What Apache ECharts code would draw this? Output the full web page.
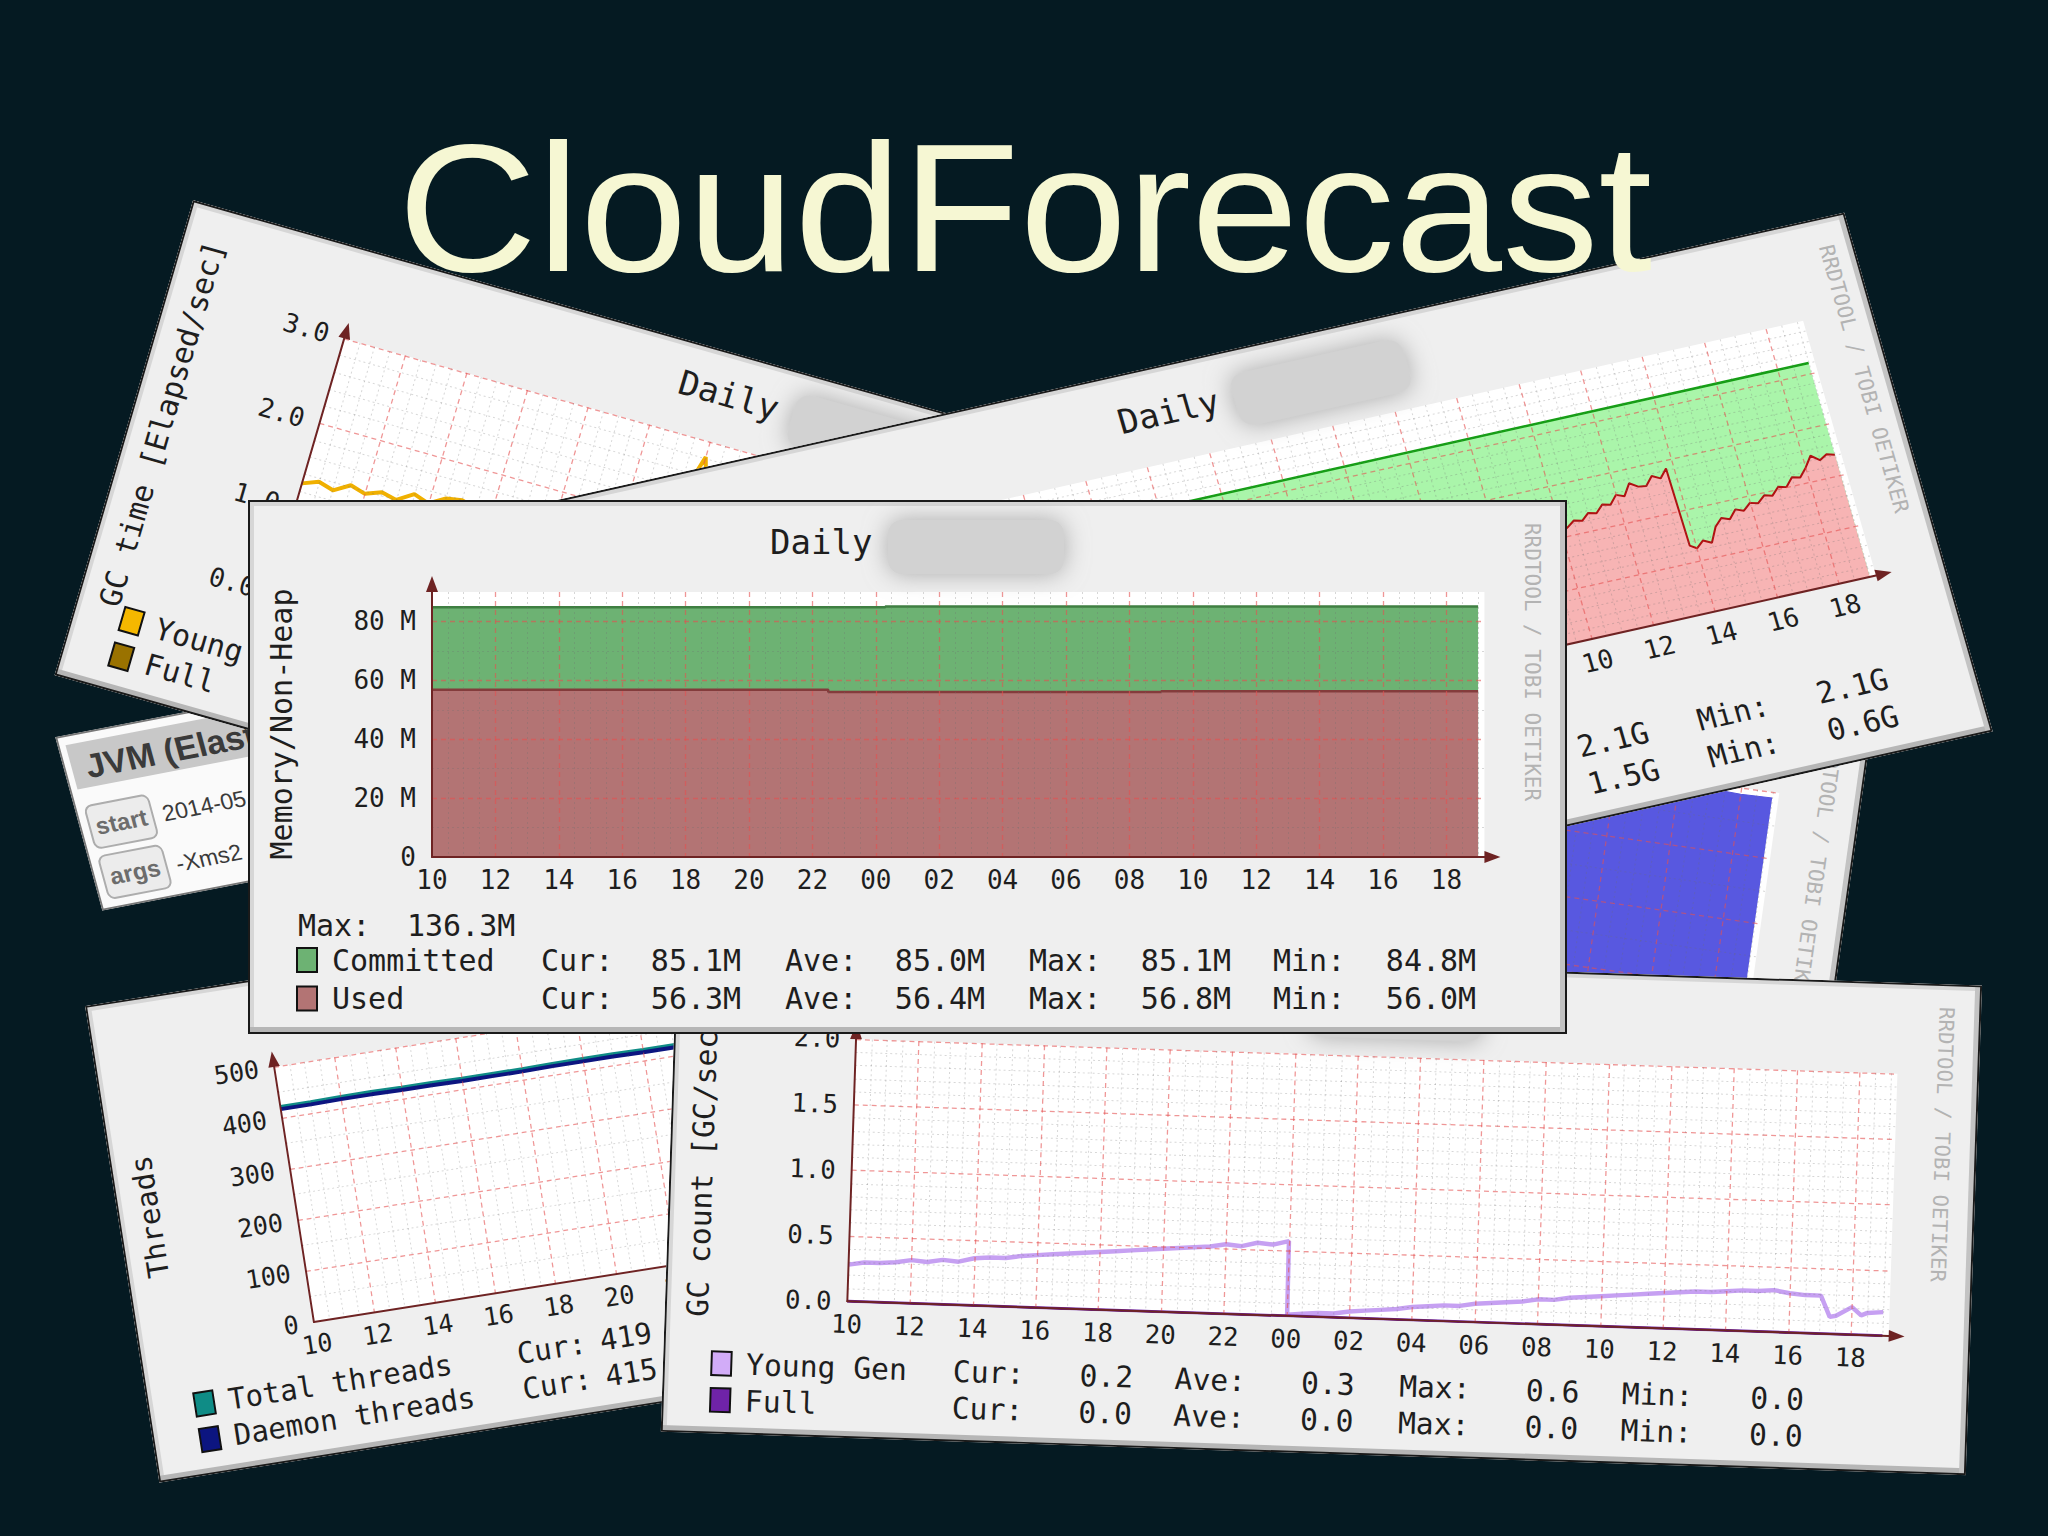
<!DOCTYPE html>
<html><head><meta charset="utf-8">
<script src="https://cdn.jsdelivr.net/npm/echarts@6/dist/echarts.min.js"></script>
<style>
html,body{margin:0;padding:0;background:#051a22;width:2048px;height:1536px;overflow:hidden;}
.card{position:absolute;transform-origin:0 0;}
</style></head><body>
<div id="cD" class="card" style="left:567.7px;top:529.9px;width:1319px;height:534px;transform:matrix(0.990,0.139,-0.139,0.990,0,0);z-index:1"></div>
<div id="cC" class="card" style="left:55px;top:737px;width:420px;height:180px;transform:matrix(0.982,-0.189,0.262,0.965,0,0);z-index:2"></div>
<div id="cA" class="card" style="left:193.3px;top:199.8px;width:1319px;height:495px;transform:matrix(0.962,0.272,-0.28,0.96,0,0);z-index:3"></div>
<div id="cB" class="card" style="left:556.9px;top:500.4px;width:1319px;height:540px;transform:matrix(0.976,-0.218,0.275,0.961,0,0);z-index:4"></div>
<div id="cE" class="card" style="left:84.9px;top:1005.7px;width:1319px;height:495px;transform:matrix(0.953,-0.151,0.150,0.963,0,0);z-index:5"></div>
<div id="cF" class="card" style="left:677.4px;top:941.7px;width:1319px;height:495px;transform:matrix(0.9895,0.0329,-0.0329,0.9895,0,0);z-index:6"></div>
<div id="cM" class="card" style="left:248px;top:500px;width:1319px;height:534px;z-index:7"></div>
<div id="titleLayer" style="position:absolute;left:0;top:0;width:2048px;height:1536px;z-index:20;pointer-events:none"></div>
<script>
// ================= DATA =================
const titleText = 'CloudForecast';
const xTickLabels = ['10','12','14','16','18','20','22','00','02','04','06','08','10','12','14','16','18'];
const halfHours = [0,0.5,1,1.5,2,2.5,3,3.5,4,4.5,5,5.5,6,6.5,7,7.5,8,8.5,9,9.5,10,10.5,11,11.5,12,12.5,13,13.5,14,14.5,15,15.5,16,16.5,17,17.5,18,18.5,19,19.5,20,20.5,21,21.5,22,22.5,23,23.5,24,24.5,25,25.5,26,26.5,27,27.5,28,28.5,29,29.5,30,30.5,31,31.5,32,32.5,33];
const hourly = [0,1,2,3,4,5,6,7,8,9,10,11,12,13,14,15,16,17,18,19,20,21,22,23,24,25,26,27,28,29,30,31,32,33];

// Main card: Memory/Non-Heap
const memYLabels = ['0','20 M','40 M','60 M','80 M'];
const memHours = [0, 12.5, 14.3, 23, 33];
const memCommitted = [84.8, 84.8, 85.1, 85.1, 85.1];
const memUsed = [56.8, 56.0, 56.0, 56.3, 56.3];
const memNames = ['Committed','Used'];
const memCur = ['85.1M','56.3M'];
const memAve = ['85.0M','56.4M'];
const memMax = ['85.1M','56.8M'];
const memMin = ['84.8M','56.0M'];
const memPeak = '136.3M';

// GC time card
const gcTimeYLabels = ['0.0','1.0','2.0','3.0'];
const gcTimeYoung = [1.29,1.36,1.31,1.42,1.37,1.44,1.40,1.52,1.46,1.57,1.60,1.55,1.68,1.63,1.75,1.71,1.84,1.93,
  1.97,2.01,2.06,2.10,2.12,2.18,2.82,2.22,2.27,2.31,0.32,
  0.35,0.38,0.40,0.44,0.47,0.49,0.53,0.55,0.59,0.61,0.65,0.68,0.70,0.74,0.77,0.80,0.82,0.86,0.88,0.92,
  0.95,0.97,1.01,1.04,1.06,1.10,1.12,1.16,1.18,1.21,1.25,1.27,1.30,1.33,0.62,0.58,0.64,0.61];
const gcTimeFullHours = [0, 33];
const gcTimeFull = [0, 0];
const gcTimeNames = ['Young','Full'];

// Heap memory card
const heapYLabels = ['0','0.5 G','1.0 G','1.5 G','2.0 G'];
const heapCommHours = [0, 33];
const heapCommitted = [2.1, 2.1];
const heapUsedHours = [0,1,2,3,4,5,6,7,7.5,7.6,8,9,10,11,12,13,14,15,16,17,18,19,20,21,22,23,24,
  24.25,24.5,24.75,25,25.25,25.5,25.75,26,26.25,26.5,26.75,27,27.25,27.5,27.75,27.8,
  28,28.25,28.5,28.75,29,29.25,29.5,29.75,30,30.25,30.5,30.75,31,31.25,31.5,31.75,32,32.25,32.5,32.75,33];
const heapUsed = [0.78,0.86,0.95,1.05,1.12,1.24,1.33,1.44,1.50,0.62,0.66,0.72,0.78,0.83,0.88,0.91,0.93,0.95,0.96,0.97,0.98,0.99,0.99,1.00,1.01,1.03,1.04,
  1.08,1.13,1.11,1.17,1.15,1.22,1.20,1.28,1.25,1.36,1.31,1.30,1.38,1.34,1.42,0.66,
  0.62,0.68,0.64,0.78,0.85,0.82,0.90,0.87,0.93,0.91,0.97,0.95,1.02,1.00,1.08,1.06,1.14,1.24,1.18,1.22,1.20];
const heapNames = ['Committed','Used'];
const heapMax = ['2.1G','1.5G'];
const heapMin = ['2.1G','0.6G'];

// Blue card (mostly hidden)
const blueYLabels = ['0','1','2','3','4'];
const blueValues = [3.88,3.90,3.91,3.89,3.92,3.90,3.91,3.93,3.90,3.92,3.91,3.90,3.92,3.93,3.91,3.90,3.92,3.91,3.93,3.92,3.90,3.91,3.92,3.93,3.91,3.92,3.90,3.91,3.93,3.92,3.91,3.92,3.90,3.91];

// Threads card
const thrYLabels = ['0','100','200','300','400','500'];
const thrTotal = [421,421,422,422,421,421,420,420,420,421,421,421,420,420,419,419,419,420,420,420,419,419,419,419,420,420,419,419,419,419,419,419,419,419];
const thrDaemon = [417,417,418,418,417,417,416,416,416,417,417,417,416,416,415,415,415,416,416,416,415,415,415,415,416,416,415,415,415,415,415,415,415,415];
const thrNames = ['Total threads','Daemon threads'];
const thrCur = ['419','415'];

// GC count card
const gcYLabels = ['0.0','0.5','1.0','1.5','2.0'];
const gcHours = [0,0.5,1,1.5,2,2.5,3,3.5,4,4.5,5,5.5,6,6.5,7,7.5,8,8.5,9,9.5,10,10.5,11,11.5,12,12.5,13,13.5,
  14,14.02,
  14.5,15,15.5,16,16.5,17,17.5,18,18.5,19,19.5,20,20.5,21,21.5,22,22.5,23,23.5,24,24.5,25,25.5,26,26.5,27,27.5,28,28.5,29,29.5,30,30.5,31,
  31.3,31.5,32,32.3,32.5,33];
const gcYoung = [0.28,0.30,0.30,0.31,0.33,0.32,0.34,0.33,0.36,0.37,0.37,0.39,0.40,0.41,0.42,0.43,0.44,0.45,0.46,0.47,0.48,0.49,0.50,0.51,0.53,0.52,0.55,0.54,
  0.57,0.01,
  0.02,0.03,0.03,0.05,0.06,0.07,0.08,0.10,0.11,0.12,0.12,0.14,0.15,0.16,0.17,0.19,0.19,0.21,0.22,0.23,0.24,0.25,0.26,0.27,0.28,0.29,0.29,0.30,0.31,0.31,0.32,0.30,0.29,0.29,
  0.13,0.14,0.21,0.15,0.17,0.18];
const gcFullHours = [0, 33];
const gcFull = [0, 0];
const gcNames = ['Young Gen','Full'];
const gcCur = ['0.2','0.0'];
const gcAve = ['0.3','0.0'];
const gcMax = ['0.6','0.0'];
const gcMin = ['0.0','0.0'];

// JVM info table
const jvmTitle = 'JVM (Elasticsearch)';
const jvmKeys = ['start','args'];
const jvmVals = ['2014-05','-Xms2'];

// ================= LAYOUT / BUILDERS =================
const LAY = {gl:184, gt:92, gh:265, hpx:31.7, xmax:33.2};
const MONO = '"DejaVu Sans Mono"';
const STAT_X = [293,537,781,1025];
const VAL_X = [448,692,938,1183];
const STAT_X_SHORT = [293,517,744,969];
const VAL_X_SHORT = [448,672,899,1126];

function fmtFrom(labels, interval){
  return function(v){
    const i = Math.round(v / interval);
    return (Math.abs(v - i * interval) < 1e-6 && labels[i] !== undefined) ? labels[i] : '';
  };
}

function txt(x, y, text, font, fill, align, extra){
  const e = {type:'text', x:x, y:y, z:10, silent:true,
    style:{text:text, font:font, fill:fill, align:align||'left', verticalAlign:'middle', textAlign:align||'left', textVerticalAlign:'middle'}};
  if (extra) Object.assign(e, extra);
  return e;
}

function frame(W, H, g){
  g.push({type:'rect', z:1, silent:true, shape:{x:0,y:0,width:W,height:6}, style:{fill:'#d6d6d6'}});
  g.push({type:'rect', z:1, silent:true, shape:{x:0,y:0,width:6,height:H}, style:{fill:'#d6d6d6'}});
  g.push({type:'rect', z:1, silent:true, shape:{x:0,y:H-7,width:W,height:7}, style:{fill:'#b6b6b6'}});
  g.push({type:'rect', z:1, silent:true, shape:{x:W-7,y:0,width:7,height:H}, style:{fill:'#c3c3c3'}});
  g.push({type:'rect', z:11, silent:true, shape:{x:1,y:1,width:W-2,height:H-2}, style:{fill:'none', stroke:'#1a1a1a', lineWidth:2}});
}

function rrdOption(s){
  const W = s.W, H = s.H, g = [];
  const ox = s.off ? s.off[0] : 0, oy = s.off ? s.off[1] : 0;
  frame(W, H, g);
  const tx = s.titleX + ox;
  g.push(txt(tx, 42 + oy, 'Daily', '34px ' + MONO, '#1e1e1e', 'left'));
  g.push({type:'rect', z:9, silent:true, shape:{x:tx+118, y:20+oy, width:176, height:54, r:14},
    style:{fill:'#d2d2d2', shadowBlur:24, shadowColor:'rgba(170,170,170,1)'}});
  if (s.ylabel) g.push(txt(33 + ox, 224 + oy, s.ylabel, '30px ' + MONO, '#1e1e1e', 'center', {rotation: Math.PI/2}));
  g.push(txt(W - 35 + Math.min(ox, 8), 162 + oy, 'RRDTOOL / TOBI OETIKER', '21px ' + MONO, '#b3b3b3', 'center', {rotation: -Math.PI/2}));
  if (s.maxRow){
    g.push(txt(50 + ox, 425 + oy, s.maxRow[0], '30px ' + MONO, '#1e1e1e', 'left'));
    g.push(txt(159 + ox, 425 + oy, s.maxRow[1], '30px ' + MONO, '#1e1e1e', 'left'));
  }
  (s.rows || []).forEach(function(r, i){
    const y = s.rowY[i] + oy;
    g.push({type:'rect', z:10, silent:true, shape:{x:49 + ox, y:y-12, width:20, height:24}, style:{fill:r.color, stroke:'#111', lineWidth:2}});
    g.push(txt(84 + ox, y, r.name, '30px ' + MONO, '#1e1e1e', 'left'));
    (r.stats || []).forEach(function(st){
      g.push(txt(st.lx + ox, y, st.label, '30px ' + MONO, '#1e1e1e', 'left'));
      g.push(txt(st.vx + ox, y, st.value, '30px ' + MONO, '#1e1e1e', 'center'));
    });
  });
  const major = {color:'rgba(228,80,80,0.6)', width:1.3, type:[5,4]};
  const minor = {color:'rgba(110,110,110,0.28)', width:1, type:[2,3]};
  const axisLineStyle = {color:'#6e2323', width:2};
  return {
    animation:false,
    backgroundColor:'#efefef',
    grid:{left:LAY.gl + ox, top:LAY.gt + oy, width:LAY.hpx*LAY.xmax, height:LAY.gh, show:true, backgroundColor:'#ffffff', borderWidth:0, outerBoundsMode:'none'},
    xAxis:{type:'value', min:0, max:LAY.xmax, interval:2, z:4,
      axisLine:{show:true, onZero:false, symbol:['none','triangle'], symbolSize:[12,16], symbolOffset:[0,8], lineStyle:axisLineStyle},
      axisTick:{show:false},
      axisLabel:{show:true, color:'#1e1e1e', fontFamily:'DejaVu Sans Mono', fontSize:26, margin:10, formatter:fmtFrom(xTickLabels, 2), showMaxLabel:false},
      splitLine:{show:true, showMaxLine:false, showMinLine:false, lineStyle:major},
      minorTick:{show:false, splitNumber:4},
      minorSplitLine:{show:true, lineStyle:minor}},
    yAxis:{type:'value', min:0, max:s.yMax, interval:s.yInt, z:4,
      axisLine:{show:true, symbol:['none','triangle'], symbolSize:[12,16], symbolOffset:[0,8], lineStyle:axisLineStyle},
      axisTick:{show:false},
      axisLabel:{show:true, color:'#1e1e1e', fontFamily:'DejaVu Sans Mono', fontSize:26, margin:16, formatter:fmtFrom(s.yLabels, s.yInt)},
      splitLine:{show:true, showMaxLine:!!s.topLine, showMinLine:false, lineStyle:major},
      minorTick:{show:false, splitNumber:s.yMinor || 2},
      minorSplitLine:{show:true, lineStyle:minor}},
    series:s.series.map(function(se){
      const o = {type:'line', silent:true, showSymbol:false, symbol:'none', z:2, clip:true,
        step:se.step || false,
        data:se.h.map(function(h, i){ return [h, se.v[i]]; }),
        lineStyle:{color:se.color, width:se.w || 2},
        itemStyle:{color:se.color}};
      if (se.fill) o.areaStyle = {color:se.fill, opacity:1};
      return o;
    }),
    graphic:{elements:g}
  };
}

function stats4(cols, vals, cur, ave, max, min, i){
  return [
    {lx:cols[0], label:'Cur:', vx:vals[0], value:cur[i]},
    {lx:cols[1], label:'Ave:', vx:vals[1], value:ave[i]},
    {lx:cols[2], label:'Max:', vx:vals[2], value:max[i]},
    {lx:cols[3], label:'Min:', vx:vals[3], value:min[i]}
  ];
}

function mk(id, opt){
  const el = document.getElementById(id);
  const c = echarts.init(el, null, {renderer:'svg', width:el.offsetWidth, height:el.offsetHeight});
  c.setOption(opt);
  return c;
}

// Blue card (behind)
mk('cD', rrdOption({W:1319, H:534, titleX:522, yMax:4, yInt:1, yLabels:blueYLabels, yMinor:2, topLine:true,
  series:[{h:hourly, v:blueValues, color:'#5454dc', fill:'#5858e0', w:1}]}));

// JVM info table
(function(){
  const W = 420, H = 180, g = [];
  g.push({type:'rect', z:1, silent:true, shape:{x:1,y:1,width:W-2,height:H-2}, style:{fill:'#fafafa', stroke:'#777', lineWidth:2}});
  g.push({type:'rect', z:2, silent:true, shape:{x:8,y:10,width:W-16,height:46}, style:{fill:'#c8c8c8'}});
  g.push(txt(22, 35, jvmTitle, 'bold 34px "Liberation Sans"', '#3a3a3a', 'left'));
  jvmKeys.forEach(function(k, i){
    const y = 96 + i * 52;
    g.push({type:'rect', z:3, silent:true, shape:{x:10, y:y-22, width:64, height:44, r:7}, style:{fill:'#ececec', stroke:'#adadad', lineWidth:2}});
    g.push(txt(42, y, k, 'bold 24px "Liberation Sans"', '#6c6c6c', 'center'));
    g.push(txt(84, y, jvmVals[i], '23px "Liberation Sans"', '#3a3a3a', 'left'));
  });
  mk('cC', {animation:false, backgroundColor:'#fafafa', graphic:{elements:g}});
})();

// GC time card
mk('cA', rrdOption({W:1319, H:495, titleX:518, ylabel:'GC time [Elapsed/sec]', yMax:3, yInt:1, yLabels:gcTimeYLabels, yMinor:5, topLine:true,
  series:[{h:halfHours, v:gcTimeYoung, color:'#f0b000', w:4}, {h:gcTimeFullHours, v:gcTimeFull, color:'#9a7200', w:2}],
  rowY:[422,459],
  rows:[{name:gcTimeNames[0], color:'#f5b800'}, {name:gcTimeNames[1], color:'#9a7200'}]}));

// Heap memory card
mk('cB', rrdOption({W:1319, H:540, titleX:549, off:[13,5], yMax:2.5, yInt:0.5, yLabels:heapYLabels, yMinor:5, topLine:false,
  series:[{h:heapCommHours, v:heapCommitted, color:'#12a012', fill:'#aaf5aa', w:2.5},
          {h:heapUsedHours, v:heapUsed, color:'#b01212', fill:'#f7b4b4', w:2}],
  rowY:[460,498.5],
  rows:heapNames.map(function(n, i){ return {name:n, color: i ? '#f7b4b4' : '#aaf5aa',
    stats:[{lx:STAT_X[2], label:'Max:', vx:VAL_X[2], value:heapMax[i]}, {lx:STAT_X[3], label:'Min:', vx:VAL_X[3], value:heapMin[i]}]}; })}));

// Threads card
mk('cE', rrdOption({W:1319, H:495, titleX:522, ylabel:'Threads', yMax:500, yInt:100, yLabels:thrYLabels, yMinor:2, topLine:true,
  series:[{h:hourly, v:thrTotal, color:'#0f8c86', w:4.5}, {h:hourly, v:thrDaemon, color:'#0c1580', w:4}],
  rowY:[422,459],
  rows:thrNames.map(function(n, i){ return {name:n, color: i ? '#0c1580' : '#0f8c86',
    stats:[{lx:387, label:'Cur:', vx:501, value:thrCur[i]}]}; })}));

// GC count card
mk('cF', rrdOption({W:1319, H:495, titleX:522, ylabel:'GC count [GC/sec]', yMax:2, yInt:0.5, yLabels:gcYLabels, yMinor:5, topLine:true,
  series:[{h:gcHours, v:gcYoung, color:'#c6a0f2', w:4.5}, {h:gcFullHours, v:gcFull, color:'#6a1fa6', w:3}],
  rowY:[424,461],
  rows:gcNames.map(function(n, i){ return {name:n, color: i ? '#6f23a8' : '#d2acf8', stats:stats4(STAT_X_SHORT, VAL_X_SHORT, gcCur, gcAve, gcMax, gcMin, i)}; })}));

// Main card
mk('cM', rrdOption({W:1319, H:534, titleX:522, ylabel:'Memory/Non-Heap', yMax:90, yInt:20, yLabels:memYLabels, yMinor:2, topLine:false,
  series:[{h:memHours, v:memCommitted, color:'#3f7f42', fill:'#6db273', w:2.5, step:'end'},
          {h:memHours, v:memUsed, color:'#843c3c', fill:'#b37474', w:2.5, step:'end'}],
  maxRow:['Max:', memPeak],
  rowY:[460,498.5],
  rows:memNames.map(function(n, i){ return {name:n, color: i ? '#b37474' : '#6db273', stats:stats4(STAT_X, VAL_X, memCur, memAve, memMax, memMin, i)}; })}));

// Title layer
mk('titleLayer', {animation:false, graphic:{elements:[
  {type:'text', x:1025, y:208, scaleX:1.06, z:10, silent:true,
   style:{text:titleText, font:'182px "Liberation Sans"', fill:'#f6f7d3', align:'center', verticalAlign:'middle', textAlign:'center', textVerticalAlign:'middle'}}
]}});
</script>
</body></html>
